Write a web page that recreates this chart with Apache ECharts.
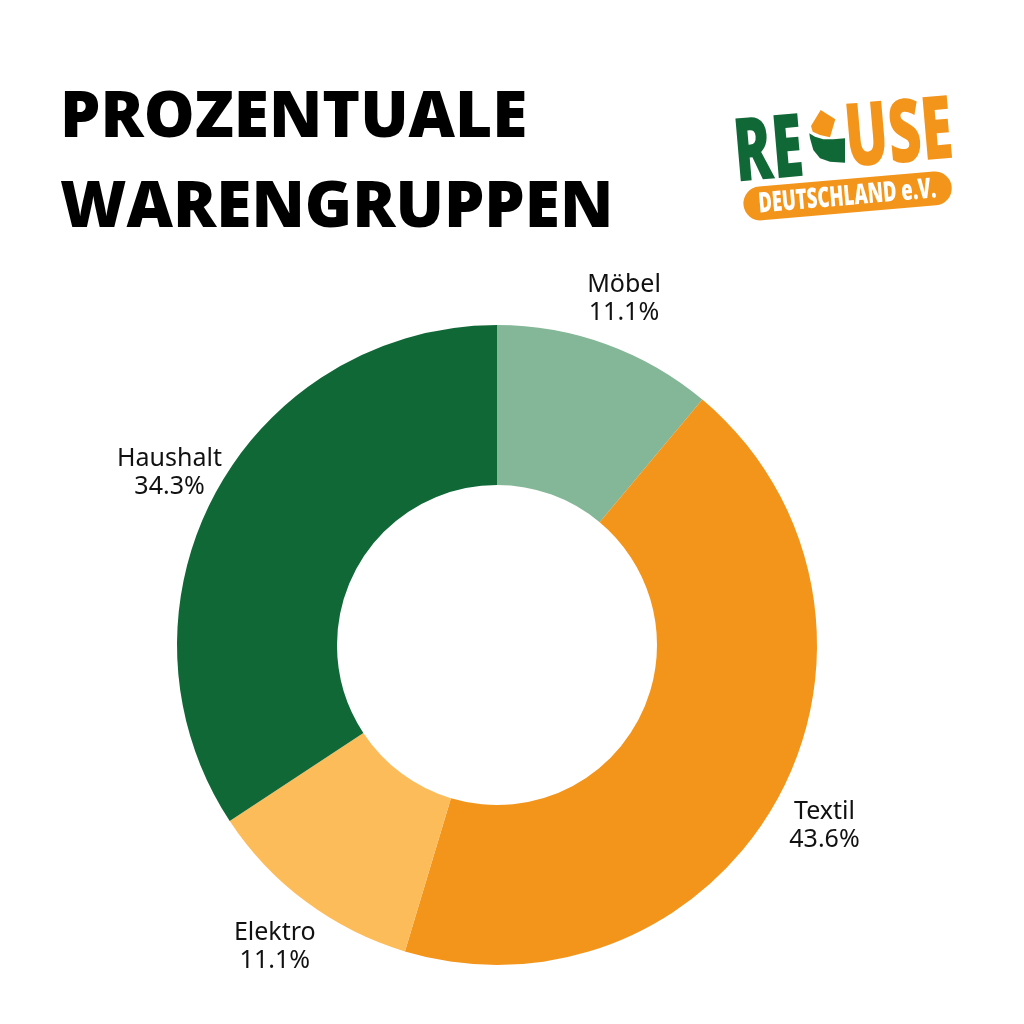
<!DOCTYPE html>
<html><head><meta charset="utf-8">
<style>html,body{margin:0;padding:0;background:#fff}#c{width:1024px;height:1024px}</style>
<script src="https://cdn.jsdelivr.net/npm/echarts@6/dist/echarts.min.js"></script>
</head><body><div id="c"></div>
<script>
var categories = ['Möbel', 'Textil', 'Elektro', 'Haushalt'];
var values = [11.1, 43.6, 11.1, 34.3];
var colors = ['#84b797', '#f3941b', '#fdbc5a', '#116837'];
var titleLines = ['PROZENTUALE', 'WARENGRUPPEN'];

var chart = echarts.init(document.getElementById('c'), null, {renderer: 'canvas'});
var data = categories.map(function (n, i) { return {name: n, value: values[i], itemStyle: {color: colors[i]}}; });

function txt(x, y, s, size, weight, fam, fill, sx) {
  return {type: 'text', x: x, y: y, scaleX: sx || 1,
    style: {text: s, fontSize: size, fontWeight: weight, fontFamily: fam, fill: fill, verticalAlign: 'top', align: 'left'}};
}

chart.setOption({
  backgroundColor: '#ffffff',
  animation: false,
  graphic: [
    txt(60, 87, titleLines[0], 64, 800, 'Open Sans', '#000'),
    txt(60, 177, titleLines[1], 64, 800, 'Open Sans', '#000'),
    {type: 'group', x: 845, y: 160, rotation: 0.086, children: [
      txt(-110, -57, 'RE', 88, 800, 'Open Sans', '#116837', 0.64),
      txt(2, -62, 'USE', 88, 800, 'Open Sans', '#f3941b', 0.65),
      {type: 'rect', shape: {x: -105, y: 19, width: 209, height: 34, r: 17}, style: {fill: '#f3941b'}},
      txt(-90, 23, 'DEUTSCHLAND e.V.', 28, 800, 'Open Sans', '#fff', 0.66)
    ]},
    {type: 'polygon', shape: {points: [[820.7,110],[835.3,119.3],[830,137.3],[820,135],[812.7,131.7],[811,126]]}, style: {fill: '#f3941b'}},
    {type: 'polygon', shape: {points: [[809.3,133.3],[810,138.3],[813.3,150],[820,158.3],[830,161.7],[845,162.7],[845,138.3],[833.3,139.3],[823.3,139.3],[815,136.7]]}, style: {fill: '#116837'}}
  ],
  series: [{
    type: 'pie',
    center: [497, 645],
    radius: [160, 320],
    startAngle: 90,
    clockwise: true,
    avoidLabelOverlap: false,
    data: data,
    label: {
      show: true,
      position: 'outside',
      formatter: function (p) { return p.name + '\n' + p.value.toFixed(1) + '%'; },
      fontFamily: 'Noto Sans',
      fontSize: 25,
      lineHeight: 28,
      color: '#111',
      align: 'center'
    },
    labelLine: {show: false, length: 52, length2: 0},
    labelLayout: function (p) {
      var pts = p.labelLinePoints;
      if (!pts) return {};
      return {x: pts[1][0], y: pts[1][1] + 4, align: 'center', verticalAlign: 'middle'};
    },
    emphasis: {disabled: true}
  }]
});
</script></body></html>
